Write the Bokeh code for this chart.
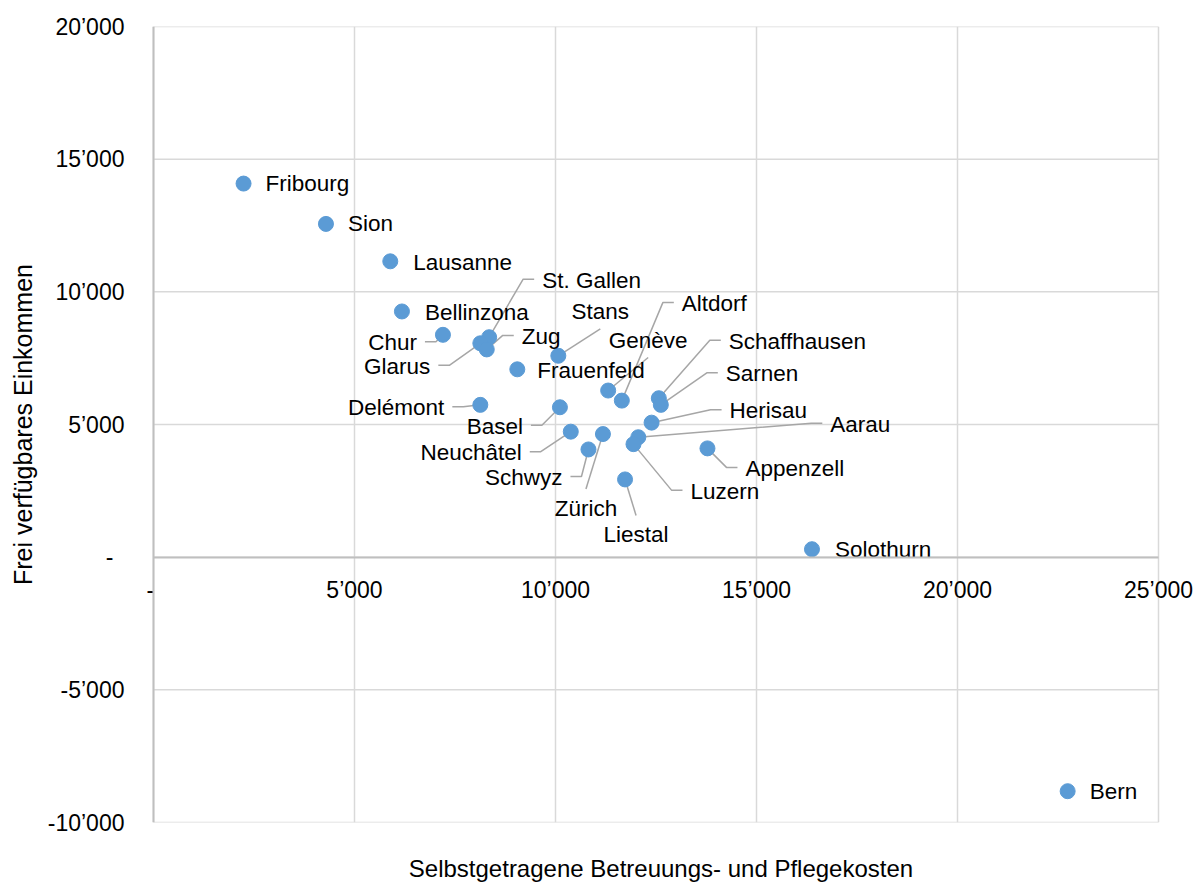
from bokeh.plotting import figure
from bokeh.models import (Range1d, LinearAxis, FixedTicker, CustomJSTickFormatter,
                          ColumnDataSource)
from bokeh.core.properties import value
from bokeh.embed import file_html
from bokeh.resources import INLINE

# ---------------- data ----------------
cities = ["Fribourg", "Sion", "Lausanne", "Bellinzona", "Chur", "St. Gallen", "Glarus",
          "Zug", "Stans", "Frauenfeld", "Genève", "Altdorf", "Schaffhausen", "Sarnen",
          "Delémont", "Basel", "Herisau", "Zürich", "Neuchâtel", "Aarau", "Luzern",
          "Schwyz", "Appenzell", "Liestal", "Solothurn", "Bern"]
cost = [2240, 4290, 5890, 6180, 7200, 8350, 8130, 8290, 10070, 9050, 11310, 11650,
        12570, 12620, 8130, 10110, 12390, 11180, 10380, 12060, 11940, 10820, 13780,
        11730, 16380, 22740]
income = [14080, 12560, 11150, 9260, 8380, 8290, 8060, 7830, 7590, 7080, 6280, 5900,
          5990, 5740, 5740, 5650, 5070, 4640, 4730, 4520, 4260, 4060, 4100, 2930, 300,
          -8820]

x_ticks = [0, 5000, 10000, 15000, 20000, 25000]
y_ticks = [-10000, -5000, 0, 5000, 10000, 15000, 20000]
x_title = "Selbstgetragene Betreuungs- und Pflegekosten"
y_title = "Frei verfügbares Einkommen"

# ---------------- label layout (screen pixel offsets from the point) ----------------
label_dx = [22, 22, 23, 23, -26, 53, -50, 35, 42, 20, 40, 60, 70, 65, -36, -37, 78,
            -17, -49, 192, 57, -26, 38, 11, 23, 22]
label_dy = [0, 0, 1, 1, 8, -57, 23, -13, -44, 1, -50, -97, -57, -31, 3, 19, -12,
            74, 21, -13, 47, 28, 20, 55, 0, 0]
label_kind = ["plain", "plain", "plain", "plain", "right", "left", "right", "left",
              "above", "plain", "above", "left", "left", "left", "right", "right",
              "left", "below", "right", "left", "left", "right", "left", "below",
              "plain", "plain"]

FONT = "Liberation Sans"
XA, XB = x_ticks[0], x_ticks[-1]
YA, YB = y_ticks[0], y_ticks[-1]
CORE_W, FH = 1005, 796          # pixels spanned by the data area
PAD_L, PAD_R = 10, 40           # extra frame room so the axis labels are not clipped
ux = (XB - XA) / CORE_W
uy = (YB - YA) / FH
FW = CORE_W + PAD_L + PAD_R
BL, BT, BB = 153 - PAD_L, 26, 62
W = 1202
H = BT + FH + BB
BR = W - BL - FW

p = figure(width=W, height=H,
           x_range=Range1d(XA - PAD_L * ux, XB + PAD_R * ux),
           y_range=Range1d(YA, YB), output_backend="svg", toolbar_location=None,
           min_border_left=BL, min_border_right=BR, min_border_top=BT,
           min_border_bottom=BB)
p.outline_line_color = None
p.background_fill_color = "white"
p.border_fill_color = "white"
p.xgrid.visible = False
p.ygrid.visible = False


def js_fmt(pad):
    return CustomJSTickFormatter(code=r"""
if (Math.abs(tick) < 1e-9) { return "-" + PAD; }
const s = Math.round(Math.abs(tick)).toString().replace(/\B(?=(\d{3})+(?!\d))/g, "\u2019");
return (tick < 0 ? "-" : "") + s;
""".replace("PAD", pad))


# ---------------- gridlines (only over the data area) ----------------
GRID = "#d9d9d9"
p.segment(x0=x_ticks, y0=[YA] * len(x_ticks), x1=x_ticks, y1=[YB] * len(x_ticks),
          line_color=GRID, line_width=1.5)
p.segment(x0=[XA] * len(y_ticks), y0=y_ticks, x1=[XB] * len(y_ticks), y1=y_ticks,
          line_color=GRID, line_width=1.5)

# y axis labels + title (left panel)
ya = p.yaxis[0]
ya.ticker = FixedTicker(ticks=y_ticks)
ya.formatter = js_fmt(r'"\u00a0\u2009"')
ya.major_tick_line_color = None
ya.minor_tick_line_color = None
ya.axis_line_color = None
ya.major_label_standoff = 13
ya.major_label_text_font = FONT
ya.major_label_text_font_size = "23px"
ya.major_label_text_color = "#000000"
ya.axis_label = y_title
ya.axis_label_text_font = FONT
ya.axis_label_text_font_size = "25px"
ya.axis_label_text_font_style = "normal"
ya.axis_label_text_color = "#000000"
ya.axis_label_standoff = 8

# y axis line at x = 0
ya0 = LinearAxis(fixed_location=XA, bounds=(YA, YB), ticker=FixedTicker(ticks=[]),
                 major_tick_line_color=None, minor_tick_line_color=None,
                 axis_line_color="#bfbfbf", axis_line_width=2)
p.add_layout(ya0, "left")

# bottom axis: carries only the title (trailing no-break spaces re-centre it
# over the data area rather than over the padded frame)
xa = p.xaxis[0]
xa.ticker = FixedTicker(ticks=[])
xa.bounds = (XA, XB)
xa.major_tick_line_color = None
xa.minor_tick_line_color = None
xa.axis_line_color = None
xa.major_label_standoff = 0
xa.axis_label = x_title + "\u00a0\u00a0\u00a0"
xa.axis_label_text_font = FONT
xa.axis_label_text_font_size = "24px"
xa.axis_label_text_font_style = "normal"
xa.axis_label_text_color = "#000000"
xa.axis_label_standoff = 32

# x axis crossing at y = 0
xa0 = LinearAxis(fixed_location=0, bounds=(XA, XB), ticker=FixedTicker(ticks=x_ticks),
                 formatter=js_fmt(r'"\u00a0"'),
                 major_tick_line_color=None, minor_tick_line_color=None,
                 axis_line_color="#bfbfbf", axis_line_width=2,
                 major_label_standoff=14, major_label_text_font=FONT,
                 major_label_text_font_size="23px", major_label_text_color="#000000")
p.add_layout(xa0, "below")

# ---------------- leader lines ----------------
xs, ys = [], []
for cx, cy, dx, dy, kind in zip(cost, income, label_dx, label_dy, label_kind):
    if kind == "plain":
        continue
    if kind == "left":
        pts = [(0, 0), (dx - 19, dy - 1), (dx - 8, dy - 1)]
    elif kind == "right":
        pts = [(0, 0), (dx + 19, dy - 1), (dx + 8, dy - 1)]
    elif kind == "above":
        pts = [(0, 0), (dx, dy + 17)]
    else:
        pts = [(0, 0), (dx, dy - 19)]
    xs.append([cx + a * ux for a, b in pts])
    ys.append([cy - b * uy for a, b in pts])
p.multi_line(xs=xs, ys=ys, line_color="#a6a6a6", line_width=1.5)

# ---------------- points ----------------
src = ColumnDataSource(dict(x=cost, y=income))
p.scatter("x", "y", source=src, size=15, fill_color="#5b9bd5", line_color="#5b9bd5")

# ---------------- labels ----------------
align_of = {"plain": "left", "left": "left", "right": "right", "above": "center",
            "below": "center"}
for al in ("left", "right", "center"):
    idx = [i for i, k in enumerate(label_kind) if align_of[k] == al]
    s = ColumnDataSource(dict(x=[cost[i] for i in idx], y=[income[i] for i in idx],
                              t=[cities[i] for i in idx],
                              dx=[label_dx[i] for i in idx],
                              dy=[label_dy[i] for i in idx]))
    p.text("x", "y", text="t", source=s, x_offset="dx", y_offset="dy",
           text_align=al, text_baseline="middle", text_font=value(FONT),
           text_font_size="22.5px", text_color="#000000")

open("out.html", "w").write(file_html(p, INLINE))
